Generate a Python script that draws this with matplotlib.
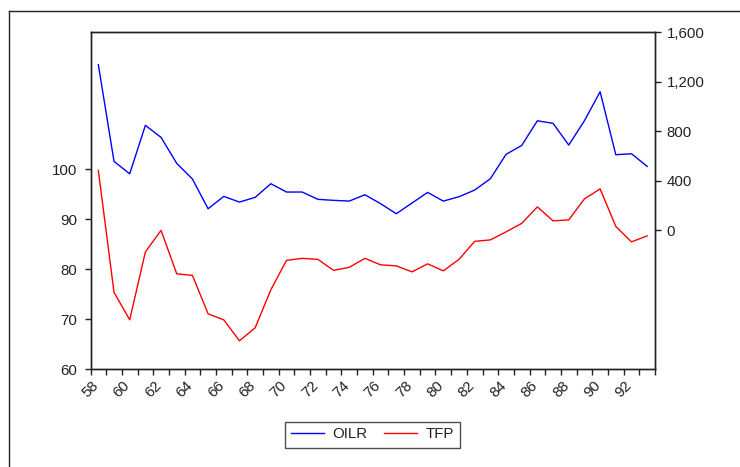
import matplotlib
matplotlib.use("Agg")
import matplotlib.pyplot as plt
import numpy as np
from matplotlib.lines import Line2D

plt.rcParams["font.family"] = ["Liberation Sans", "DejaVu Sans"]

# ---- data (1958-1993) ----
years = list(range(1958, 1994))
oilr = [1336, 556, 456, 847, 750, 540, 414, 174, 274, 228, 266, 376,
        309, 309, 250, 242, 236, 287, 215, 134, 220, 306, 236, 271,
        325, 416, 613, 685, 884, 863, 688, 884, 1118, 610, 618, 516]
tfp = [99.8, 75.4, 69.9, 83.5, 87.8, 79.1, 78.8, 71.1, 69.9, 65.7, 68.3, 75.9,
       81.8, 82.2, 82.0, 79.8, 80.4, 82.2, 80.9, 80.7, 79.5, 81.1, 79.7, 82.0,
       85.6, 85.9, 87.5, 89.2, 92.5, 89.7, 89.9, 94.1, 96.1, 88.6, 85.5, 86.7]
left_ticks = [60, 70, 80, 90, 100]
right_ticks = [0, 400, 800, 1200, 1600]

W, H = 740, 467
fig = plt.figure(figsize=(W / 100, H / 100), dpi=100)
fig.patch.set_facecolor("white")

# axes box in pixels: left 90, right 655, top 32, bottom 369
ax = fig.add_axes([90.5 / W, (H - 369.3) / H, (655 - 90.5) / W, (369.3 - 32) / H])
ax2 = ax.twinx()

x = np.array(years) + 0.5
l1, = ax2.plot(x, oilr, color="#0000ff", lw=1.0, label="OILR")
l2, = ax.plot(x, tfp, color="#ff0000", lw=1.0, label="TFP")

ax.set_xlim(1958, 1994)
ax.set_ylim(60, 127.5)
ax2.set_ylim(-1121, 1600)

ax.set_yticks(left_ticks)
ax.set_yticklabels([str(v) for v in left_ticks])
ax2.set_yticks(right_ticks)
ax2.set_yticklabels([f"{v:,}" for v in right_ticks])

ax.set_xticks(range(1958, 1995), minor=True)
ax.set_xticks(range(1958, 1993, 2))
ax.set_xticklabels([f"{y % 100:02d}" for y in range(1958, 1993, 2)],
                   rotation=45, ha="center")

for a in (ax, ax2):
    a.tick_params(axis="both", which="both", direction="out", length=4.5,
                  width=1.0, color="#222222", labelsize=10.8, labelcolor="#222222")
    for s in a.spines.values():
        s.set_color("#222222")
        s.set_linewidth(1.0)
ax.tick_params(axis="x", pad=2)
ax.tick_params(axis="y", pad=5)
ax2.tick_params(axis="y", pad=4)

leg = fig.legend([l1, l2], ["OILR", "TFP"], ncol=2, loc="center",
                 bbox_to_anchor=(372.5 / W, 1 - 434.5 / H), frameon=True,
                 fancybox=False, shadow=False, fontsize=10.8,
                 handlelength=2.2, columnspacing=1.1, borderpad=0.4,
                 handletextpad=0.55, labelcolor="#222222")
leg.get_frame().set_edgecolor("#222222")
leg.get_frame().set_linewidth(1.0)

# outer frame (left and top edges visible)
fig.add_artist(Line2D([9 / W, 9 / W], [0, 1 - 11 / H], transform=fig.transFigure,
                      color="#222222", lw=1.0))
fig.add_artist(Line2D([9 / W, 1], [1 - 11 / H, 1 - 11 / H], transform=fig.transFigure,
                      color="#222222", lw=1.0))

fig.savefig("out.png", dpi=100, facecolor="white")
